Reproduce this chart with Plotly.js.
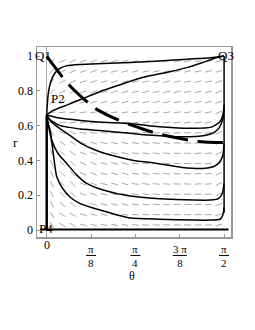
<!DOCTYPE html>
<html><head><meta charset="utf-8">
<script src="https://cdn.plot.ly/plotly-3.0.1.min.js"></script>
<style>html,body{margin:0;padding:0;background:#fff;}</style>
</head><body><div id="chart" style="width:255px;height:330px;"></div>
<script>
// ---- data ----
const xTickVals = [0, Math.PI/8, Math.PI/4, 3*Math.PI/8, Math.PI/2];
const xTickNum = ['0', 'π', 'π', '3 π', 'π'];
const xTickDen = ['', '8', '4', '8', '2'];
const yTickVals = [0, 0.2, 0.4, 0.6, 0.8, 1];
const yTickText = ['0', '0.2', '0.4', '0.6', '0.8', '1'];

const c1T = [0, 0.005, 0.015, 0.035, 0.07, 0.12, 0.18, 0.3, 0.5, 0.74, 1.0, 1.25, 1.45, 1.5708];
const c1R = [0.661, 0.72, 0.79, 0.85, 0.9, 0.93, 0.945, 0.952, 0.957, 0.963, 0.972, 0.982, 0.99, 1.0];
const c2T = [0, 0.05, 0.177, 0.3, 0.47, 0.65, 0.74, 0.9, 1.09, 1.25, 1.39, 1.5, 1.5708];
const c2R = [0.661, 0.685, 0.718, 0.75, 0.795, 0.835, 0.855, 0.885, 0.91, 0.935, 0.965, 0.99, 1.0];
const c3T = [0, 0.1, 0.3, 0.5, 0.74, 0.9, 1.1, 1.3, 1.45, 1.53, 1.56, 1.5708];
const c3R = [0.661, 0.645, 0.63, 0.62, 0.612, 0.6, 0.59, 0.585, 0.59, 0.62, 0.66, 0.72];
const c4T = [0, 0.02, 0.06, 0.12, 0.2, 0.3, 0.47, 0.74, 0.9, 1.1, 1.27, 1.41, 1.48, 1.53, 1.56, 1.5708];
const c4R = [0.661, 0.64, 0.62, 0.6, 0.59, 0.58, 0.572, 0.556, 0.546, 0.538, 0.536, 0.545, 0.56, 0.59, 0.64, 0.7];
const c5T = [0, 0.03, 0.08, 0.17, 0.3, 0.43, 0.6, 0.77, 0.95, 1.2, 1.4, 1.48, 1.53, 1.56, 1.5708];
const c5R = [0.661, 0.63, 0.6, 0.56, 0.5, 0.46, 0.425, 0.4, 0.385, 0.36, 0.355, 0.365, 0.39, 0.43, 0.5];
const c6T = [0, 0.015, 0.044, 0.1, 0.177, 0.26, 0.354, 0.5, 0.738, 1.0, 1.3, 1.45, 1.52, 1.555, 1.5708];
const c6R = [0.661, 0.6, 0.517, 0.44, 0.383, 0.32, 0.268, 0.23, 0.195, 0.18, 0.172, 0.172, 0.18, 0.21, 0.27];
const c7T = [0, 0.01, 0.03, 0.06, 0.089, 0.14, 0.206, 0.3, 0.472, 0.738, 1.0, 1.31, 1.45, 1.536, 1.56, 1.5708];
const c7R = [0.661, 0.62, 0.575, 0.43, 0.306, 0.24, 0.19, 0.15, 0.115, 0.069, 0.062, 0.057, 0.057, 0.062, 0.086, 0.13];
const leftT = [0, 0], leftR = [0, 0.661];
const baseT = [-0.06, 1.61], baseR = [0.003, 0.003];
const rightT = [1.5708, 1.5708], rightR = [0.1, 1.0];
const dashT = [0, 0.133, 0.19, 0.37, 0.44, 0.65, 0.83, 0.96, 1.05, 1.28, 1.37, 1.56];
const dashR = [1.0, 0.885, 0.84, 0.73, 0.695, 0.628, 0.585, 0.558, 0.543, 0.515, 0.508, 0.503];

const labelText = ['Q1', 'P2', 'Q3', 'P4'];
const labelT = [-0.037, 0.096, 1.586, -0.008];
const labelR = [1.006, 0.757, 1.006, 0.01];

// direction field: angles (degrees on screen) at sample points
const fieldT = [0.05, 0.2, 0.4, 0.6, 0.8, 1.0, 1.2, 1.4, 1.55];
const fieldR = [0.95, 0.85, 0.75, 0.65, 0.55, 0.45, 0.35, 0.25, 0.15, 0.05];
const fieldAngle = [
  [45, 25, 18, 15, 13, 12, 12, 12, 15],
  [50, 28, 20, 16, 14, 13, 12, 12, 18],
  [45, 25, 18, 15, 13, 12, 11, 12, 20],
  [5, 8, 8, 8, 8, 8, 8, 10, 22],
  [-55, -25, -8, -4, -2, -1, 0, 6, 25],
  [-65, -35, -20, -12, -8, -5, -2, 5, 25],
  [-65, -45, -25, -14, -9, -5, -2, 4, 25],
  [-65, -45, -22, -14, -9, -5, -2, 3, 25],
  [-65, -40, -20, -13, -8, -5, -2, 3, 20],
  [-60, -30, -15, -10, -5, -3, -1, 2, 15]
];

// ---- layout geometry ----
const M = {l: 37, r: 24, t: 47, b: 93};
const xr = [-0.086, 1.632], yr = [-0.04, 1.052];
const pw = 255 - M.l - M.r, ph = 330 - M.t - M.b;
const pxT = pw / (xr[1] - xr[0]), pxR = ph / (yr[1] - yr[0]);
const px2paperX = v => (v - xr[0]) / (xr[1] - xr[0]);

function nearestIdx(arr, v) {
  let b = 0, d = Infinity;
  arr.forEach((a, i) => { if (Math.abs(a - v) < d) { d = Math.abs(a - v); b = i; } });
  return b;
}
const fx = [], fy = [];
const nG = 17, L = 7;
for (let i = 0; i < nG; i++) {
  for (let j = 0; j < nG; j++) {
    const t = (i + 0.5) * (Math.PI / 2) / nG;
    const r = (j + 0.5) / nG;
    const a = fieldAngle[nearestIdx(fieldR, r)][nearestIdx(fieldT, t)] * Math.PI / 180;
    const dt = (L / 2) * Math.cos(a) / pxT, dr = (L / 2) * Math.sin(a) / pxR;
    fx.push(t - dt, t + dt, null);
    fy.push(r - dr, r + dr, null);
  }
}

const blk = (x, y, w) => ({x, y, type: 'scatter', mode: 'lines', line: {color: '#000', width: w || 1.5, shape: 'spline', smoothing: 0.6}, hoverinfo: 'skip', showlegend: false});
const traces = [
  {x: fx, y: fy, type: 'scatter', mode: 'lines', line: {color: '#aaaaaa', width: 1}, hoverinfo: 'skip', showlegend: false},
  blk(c1T, c1R), blk(c2T, c2R), blk(c3T, c3R), blk(c4T, c4R), blk(c5T, c5R), blk(c6T, c6R), blk(c7T, c7R),
  blk(leftT, leftR, 2.5), blk(baseT, baseR, 1.8), blk(rightT, rightR, 1.5),
  {x: dashT, y: dashR, type: 'scatter', mode: 'lines', line: {color: '#000', width: 3, dash: '26px,10px', shape: 'spline'}, hoverinfo: 'skip', showlegend: false}
];

const serif = 'Liberation Serif';
const ann = [];
const shapes = [];
xTickVals.forEach((v, i) => {
  if (xTickDen[i] === '') {
    ann.push({x: px2paperX(v), y: -0.042, xref: 'paper', yref: 'paper', text: xTickNum[i], showarrow: false, xanchor: 'center', yanchor: 'middle', borderpad: 0, font: {family: serif, size: 12, color: 'black'}});
  } else {
    ann.push({x: px2paperX(v), y: -0.1, xref: 'paper', yref: 'paper', text: xTickNum[i] + '<br>' + xTickDen[i], showarrow: false, xanchor: 'center', yanchor: 'middle', borderpad: 0, font: {family: serif, size: 11, color: 'black'}});
    const hw = (xTickNum[i].length > 1 ? 7 : 5) / pw;
    shapes.push({type: 'line', xref: 'paper', yref: 'paper', x0: px2paperX(v) - hw, x1: px2paperX(v) + hw, y0: -0.097, y1: -0.097, line: {color: '#000', width: 1}});
  }
});
ann.push({x: px2paperX(0.755), y: -0.205, xref: 'paper', yref: 'paper', text: 'θ', showarrow: false, xanchor: 'center', yanchor: 'middle', borderpad: 0, font: {family: serif, size: 12, color: 'black'}});
ann.push({x: -0.113, y: 0.495, xref: 'paper', yref: 'paper', text: 'r', showarrow: false, xanchor: 'center', yanchor: 'middle', borderpad: 0, font: {family: serif, size: 13, color: 'black'}});
labelText.forEach((s, i) => {
  ann.push({x: labelT[i], y: labelR[i], xref: 'x', yref: 'y', text: s, showarrow: false, xanchor: 'center', yanchor: 'middle', borderpad: 0, font: {family: serif, size: 13, color: 'black'}});
});

const layout = {
  width: 255, height: 330, margin: M,
  paper_bgcolor: '#fff', plot_bgcolor: '#fff',
  xaxis: {range: xr, showgrid: false, zeroline: true, zerolinecolor: '#aaaaaa', zerolinewidth: 1,
    showline: true, mirror: true, linecolor: '#999', linewidth: 1.5,
    tickvals: xTickVals, showticklabels: false, ticks: 'inside', ticklen: 3, tickcolor: '#999'},
  yaxis: {range: yr, showgrid: false, zeroline: false,
    showline: true, mirror: true, linecolor: '#999', linewidth: 1.5,
    tickvals: yTickVals, ticktext: yTickText, ticks: 'inside', ticklen: 3, tickcolor: '#999',
    tickfont: {family: serif, size: 12, color: 'black'}},
  annotations: ann, shapes: shapes, showlegend: false
};
Plotly.newPlot('chart', traces, layout, {displayModeBar: false, staticPlot: true});
</script></body></html>
